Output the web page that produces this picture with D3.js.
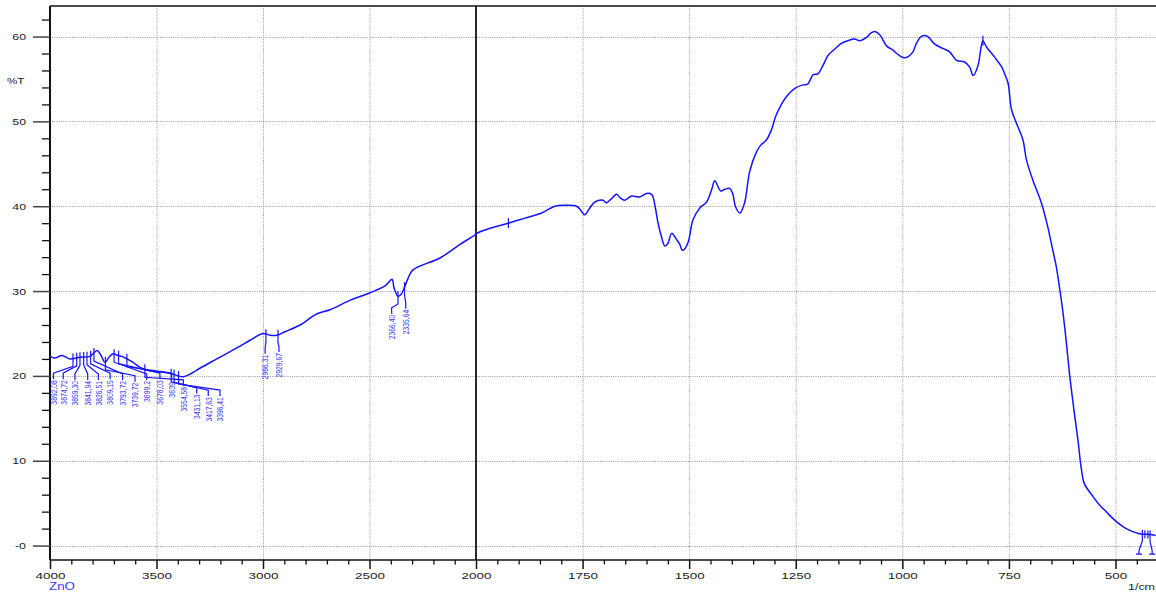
<!DOCTYPE html>
<html><head><meta charset="utf-8">
<script src="https://cdn.jsdelivr.net/npm/d3@7"></script>
<style>body{margin:0;background:#fff;} svg{display:block;font-family:"Liberation Sans",Arial,sans-serif;}</style>
</head><body><svg id="c" width="1156" height="592"></svg>
<script>
// ---- data ----
const wavenumbers = [4000,3977,3944,3906,3859,3812,3779,3760,3742,3723,3704,3681,3662,3638,3610,3577,3546,3499,3460,3421,3399,3374,3343,3296,3217,3123,3061,3000,2967,2934,2897,2826,2748,2685,2592,2498,2427,2394,2385,2366,2352,2338,2319,2296,2169,2075,2000,
1998,1967,1924,1885,1846,1815,1791,1764,1754,1745,1733,1721,1702,1694,1684,1670,1662,1651,1635,1616,1600,1588,1580,1573,1565,1557,1550,1541,1530,1522,1516,1510,1502,1491,1475,1459,1447,1440,1426,1416,1405,1398,1391,1381,1370,1358,1342,1332,1319,1307,1297,1288,1272,1252,1233,1222,1209,1198,1187,1174,1159,1143,1128,1112,1100,1084,1074,1065,1053,1037,1022,1013,1002,995,987,975,967,956,944,936,924,905,889,873,854,842,834,823,815,811,803,784,768,760,752,744,734,717,709,694,674,659,650,639,631,623,615,608,598,588,580,573,553,538,522,502,475,444,420,406];
const transmittance = [22.3,22.1,22.4,22.0,22.2,22.3,23.0,22.4,21.6,22.2,22.6,22.4,22.3,22.0,21.6,21.0,20.7,20.5,20.4,20.2,20.0,19.9,20.2,20.9,22.0,23.3,24.2,25.0,24.8,24.8,25.2,26.0,27.3,27.8,28.9,29.8,30.6,31.4,30.4,29.4,29.6,30.3,31.5,32.5,33.9,35.5,36.7,
36.8,37.4,38.0,38.6,39.2,40.0,40.1,40.0,39.5,39.0,39.8,40.5,40.7,40.4,40.8,41.4,41.0,40.7,41.2,41.1,41.5,41.4,40.0,38.0,36.4,35.3,35.6,36.8,36.1,35.5,34.8,35.0,35.8,38.4,39.8,40.5,42.0,43.0,41.8,42.0,42.1,41.5,39.9,39.2,40.4,44.1,46.4,47.2,47.8,49.0,50.6,51.6,52.9,53.9,54.3,54.4,55.5,55.6,56.5,57.8,58.5,59.2,59.5,59.7,59.5,59.9,60.4,60.6,60.2,58.9,58.4,58.0,57.6,57.5,57.6,58.2,59.2,60.0,60.1,59.8,59.1,58.6,58.2,57.2,57.0,56.4,55.4,56.5,58.8,59.5,58.8,57.6,56.5,55.6,54.5,51.4,50.0,47.8,45.5,43.1,40.4,37.6,35.5,32.9,30.3,27.4,23.8,20.3,16.2,12.4,9.0,7.3,5.8,4.8,4.0,3.0,2.0,1.4,1.3,1.2];

const xMajorTicks = [4000,3500,3000,2500,2000,1750,1500,1250,1000,750,500];
const yMajorTicks = [0,10,20,30,40,50,60];
const yTickLabels = ["-0","10","20","30","40","50","60"];

const peakValues = [3892.08,3874.72,3859.30,3841.94,3826.51,3809.15,3793.72,3739.72,3699.20,3678.03,3639.00,3554.58,3431.13,3417.63,3396.41,2986.31,2929.67,2366.40,2335.64];
const peakLabels = ["3892,08","3874,72","3859,30","3841,94","3826,51","3809,15","3793,72","3739,72","3699,2","3678,03","3639,","3554,58","3431,13","3417,63","3396,41","2986,31","2929,67","2366,40","2335,64"];
// label anchor (wavenumber) and top (%T) of each rotated label
const labelAnchorWn = [3984,3938,3883,3823,3773,3718,3659,3601,3546,3484,3429,3374,3311,3257,3202,2990,2925,2396,2330];
const labelTopT = [19.5,19.5,19.4,19.4,19.4,19.5,19.4,19.2,19.4,19.5,19.5,18.7,17.8,17.5,17.5,22.5,22.7,27.2,27.8];
const unlabeledPeaks = [1924,811];
const edgePeaks = [437,431,424,419];

// ---- scales ----
const W = 1156, H = 592;
const x = d3.scaleLinear().domain([4000,2000,405]).range([50,476,1156]);
const y = d3.scaleLinear().domain([-1.7,63.6]).range([560,6]);
const svg = d3.select("#c");
const interp = wn => {
  for (let i=0;i<wavenumbers.length-1;i++){
    const a=wavenumbers[i], b=wavenumbers[i+1];
    if ((wn<=a && wn>=b)) { const t=(a-wn)/(a-b); return transmittance[i]+(transmittance[i+1]-transmittance[i])*t; }
  }
  return transmittance[transmittance.length-1];
};

// grid
const grid = svg.append("g").attr("stroke","#9a9a9a").attr("stroke-width",1).attr("stroke-dasharray","1,1.2");
grid.selectAll("line.v").data(xMajorTicks.filter(d=>d!==4000&&d!==2000)).join("line")
  .attr("x1",d=>x(d)+0.5).attr("x2",d=>x(d)+0.5).attr("y1",y.range()[1]).attr("y2",y.range()[0]);
grid.selectAll("line.h").data(yMajorTicks).join("line")
  .attr("y1",d=>Math.round(y(d))+0.5).attr("y2",d=>Math.round(y(d))+0.5).attr("x1",50).attr("x2",W);

// break line at 2000
svg.append("line").attr("x1",x(2000)).attr("x2",x(2000)).attr("y1",6).attr("y2",560).attr("stroke","#111").attr("stroke-width",1.8);
// top frame
svg.append("line").attr("x1",50).attr("x2",W).attr("y1",6).attr("y2",6).attr("stroke","#111").attr("stroke-width",1.5);

// axes
const xMinor = d3.range(3900,2000,-100).concat(d3.range(1950,400,-50)).filter(d=>!xMajorTicks.includes(d));
const gxm = svg.append("g").attr("transform","translate(0,560)")
  .call(d3.axisBottom(x).tickValues(xMinor).tickSize(4.5).tickFormat(""));
gxm.select(".domain").remove();
gxm.selectAll("line").attr("stroke","#111").attr("stroke-width",1.3);
const gx = svg.append("g").attr("transform","translate(0,560)")
  .call(d3.axisBottom(x).tickValues(xMajorTicks).tickSize(9).tickSizeOuter(0).tickPadding(3).tickFormat(d=>d));
gx.select(".domain").attr("stroke","#111").attr("stroke-width",1.6).attr("d","M50,0H"+W);
gx.selectAll("line").attr("stroke","#111").attr("stroke-width",1.5);
gx.selectAll("text").attr("font-size",9.5).attr("fill","#222").attr("font-family","Liberation Sans, Arial, sans-serif")
  .attr("dy",0).attr("y",19).attr("textLength",d=>String(d).length*7.5).attr("lengthAdjust","spacingAndGlyphs");

const yMinor = d3.range(2,63,2).filter(d=>!yMajorTicks.includes(d));
const gym = svg.append("g").attr("transform","translate(50,0)")
  .call(d3.axisLeft(y).tickValues(yMinor).tickSize(8).tickFormat(""));
gym.select(".domain").remove();
gym.selectAll("line").attr("stroke","#111").attr("stroke-width",1.3);
const gy = svg.append("g").attr("transform","translate(50,0)")
  .call(d3.axisLeft(y).tickValues(yMajorTicks).tickSize(17).tickSizeOuter(0).tickPadding(7).tickFormat((d,i)=>yTickLabels[i]));
gy.select(".domain").attr("stroke","#111").attr("stroke-width",2).attr("d","M0,6V560");
gy.selectAll("line").attr("stroke","#444").attr("stroke-width",1.5);
gy.selectAll("text").attr("font-size",9.5).attr("fill","#222").attr("font-family","Liberation Sans, Arial, sans-serif")
  .attr("textLength",(d,i)=>yTickLabels[i]==="-0"?11:13.7).attr("lengthAdjust","spacingAndGlyphs");

// axis titles
svg.append("text").attr("x",7).attr("y",84).attr("font-size",9.5).attr("fill","#222")
  .attr("textLength",17.5).attr("lengthAdjust","spacingAndGlyphs").text("%T");
svg.append("text").attr("x",49).attr("y",590).attr("font-size",10).attr("fill","#3a3aff")
  .attr("textLength",26).attr("lengthAdjust","spacingAndGlyphs").text("ZnO");
svg.append("text").attr("x",1128).attr("y",590).attr("font-size",9.5).attr("fill","#222")
  .attr("textLength",27).attr("lengthAdjust","spacingAndGlyphs").text("1/cm");

// spectrum
const blue = "#1414ff";
const line = d3.line().x((d,i)=>x(wavenumbers[i])).y((d,i)=>y(transmittance[i])).curve(d3.curveCatmullRom.alpha(0.5));
svg.append("path").datum(transmittance).attr("d",line).attr("fill","none").attr("stroke",blue).attr("stroke-width",1.5);

// peak markers + leaders + labels
const pk = svg.append("g").attr("stroke",blue).attr("stroke-width",1.2).attr("fill","none");
peakValues.forEach((wn,i)=>{
  const mx = x(wn), my = y(interp(wn));
  const lx = x(labelAnchorWn[i]), lt = y(labelTopT[i]);
  pk.append("line").attr("x1",mx).attr("x2",mx).attr("y1",my-5).attr("y2",my+5);
  pk.append("path").attr("d",`M${mx},${my+5}L${mx},${my+8}L${lx},${lt-7}L${lx},${lt-1}`);
  svg.append("text").attr("transform",`translate(${lx+3.3},${lt}) rotate(-90)`).attr("text-anchor","end")
    .attr("font-size",9).attr("fill","#3a3aff").attr("textLength",peakLabels[i].length*3.5).attr("lengthAdjust","spacingAndGlyphs")
    .text(peakLabels[i]);
});
unlabeledPeaks.forEach(wn=>{
  const mx=x(wn), my=y(interp(wn));
  pk.append("line").attr("x1",mx).attr("x2",mx).attr("y1",my-5).attr("y2",my+5);
});
edgePeaks.forEach((wn,i)=>{
  const mx=x(wn), my=y(interp(wn));
  pk.append("line").attr("x1",mx).attr("x2",mx).attr("y1",my-4).attr("y2",my+4);
});
// leaders of the edge peaks run out of the plot (labels hidden below the axis)
[[edgePeaks[0],445],[edgePeaks[3],414]].forEach(([wn,lw])=>{
  const mx=x(wn), my=y(interp(wn)), lx=x(lw);
  pk.append("path").attr("d",`M${mx},${my+4}L${mx},${my+7}L${lx},${y(-0.6)}L${lx},${y(-1)}M${lx-3},${y(-1)}H${lx+3}`);
});
</script></body></html>
